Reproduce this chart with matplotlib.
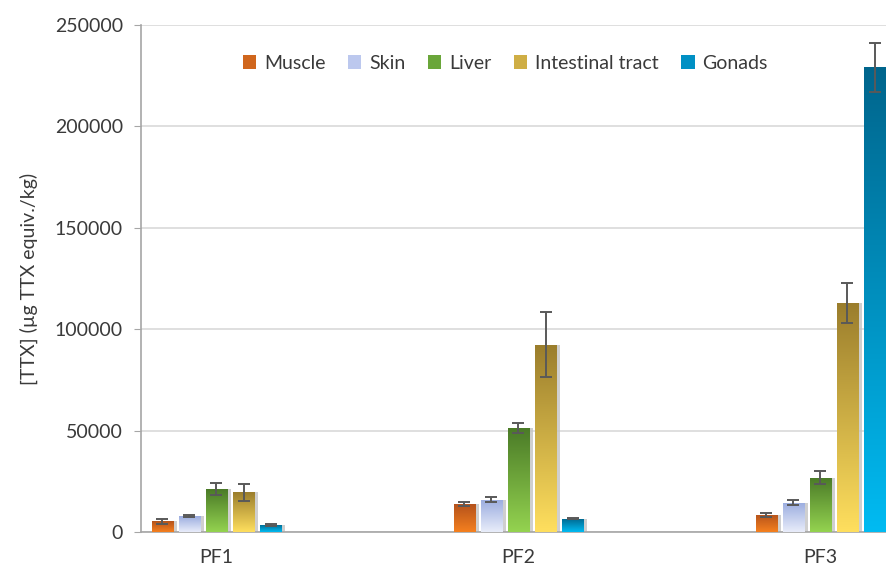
import numpy as np
import matplotlib
matplotlib.use("Agg")
import matplotlib.pyplot as plt
from matplotlib.colors import LinearSegmentedColormap
from matplotlib.patches import Patch

categories = ["PF1", "PF2", "PF3"]
tissues = ["Muscle", "Skin", "Liver", "Intestinal tract", "Gonads"]

muscle = [5300, 13800, 8500]
muscle_err = [1200, 1100, 1100]
skin = [7700, 16000, 14500]
skin_err = [500, 1400, 1200]
liver = [21200, 51300, 26700]
liver_err = [2800, 2300, 3200]
intestinal = [19600, 92300, 113100]
intestinal_err = [4100, 16000, 9800]
gonads = [3600, 6600, 229100]
gonads_err = [500, 300, 12000]

values = [muscle, skin, liver, intestinal, gonads]
errors = [muscle_err, skin_err, liver_err, intestinal_err, gonads_err]

# (top colour, bottom colour) for the Excel-like gradients
grads = [("#b4521b", "#f5801f"),
         ("#9aacdf", "#e9edfa"),
         ("#4a7a27", "#94d350"),
         ("#9a7d2c", "#ffdf5e"),
         ("#00658c", "#00bbf2")]
legend_cols = ["#d0661d", "#bcc8ee", "#6aa63a", "#cfae45", "#0090c4"]

plt.rcParams["font.family"] = ["Lato", "DejaVu Sans"]
text_col = "#3a3a3a"

fig = plt.figure(figsize=(8.86, 5.69), dpi=100)
ax = fig.add_axes([141 / 886, 37 / 569, 745 / 886, 507 / 569])

group_x = np.arange(len(categories)) * 2
step = 0.179
width = 0.143

for i, (vals, errs) in enumerate(zip(values, errors)):
    xs = group_x + (i - 2) * step
    cmap = LinearSegmentedColormap.from_list("g%d" % i, [grads[i][1], grads[i][0]])
    # soft shadow on the right
    ax.bar(xs + 0.022, vals, width, color="#c4c4c4", alpha=0.8, zorder=2, linewidth=0)
    bars = ax.bar(xs, vals, width, color="none", zorder=3, linewidth=0)
    for b in bars:
        x0 = b.get_x()
        h = b.get_height()
        grad = np.linspace(0, 1, 256).reshape(-1, 1)
        im = ax.imshow(grad, extent=[x0, x0 + b.get_width(), 0, h], origin="lower",
                       aspect="auto", cmap=cmap, zorder=3)
        im.set_clip_path(b)
    ax.errorbar(xs, vals, yerr=errs, fmt="none", ecolor="#595959", elinewidth=1.4,
                capsize=4, capthick=1.4, zorder=4)

ax.set_xlim(-0.5, 4.434)
ax.set_ylim(0, 250000)
ax.set_yticks(np.arange(0, 250001, 50000))
ax.set_xticks(group_x)
ax.set_xticklabels(categories)
ax.yaxis.grid(True, color="#d9d9d9", linewidth=1.2, zorder=0)
ax.set_axisbelow(True)

for s in ["top", "right"]:
    ax.spines[s].set_visible(False)
ax.spines["left"].set_color("#a6a6a6")
ax.spines["bottom"].set_color("#a6a6a6")
ax.spines["left"].set_linewidth(1.2)
ax.spines["bottom"].set_linewidth(1.2)
ax.tick_params(axis="y", length=5, color="#a6a6a6", labelsize=14, labelcolor=text_col, pad=8)
ax.tick_params(axis="x", length=0, labelsize=14, labelcolor=text_col, pad=12)

ax.set_ylabel("[TTX] (µg TTX equiv./kg)", fontsize=14, color=text_col, labelpad=12)

handles = [Patch(facecolor=c, edgecolor="none") for c in legend_cols]
ax.legend(handles, tissues, loc="center", bbox_to_anchor=(0.489, 0.925), ncol=5,
          frameon=False, fontsize=14, handlelength=0.7, handleheight=0.7,
          handletextpad=0.4, columnspacing=1.15, labelcolor=text_col)

fig.savefig("out.png", dpi=100)
